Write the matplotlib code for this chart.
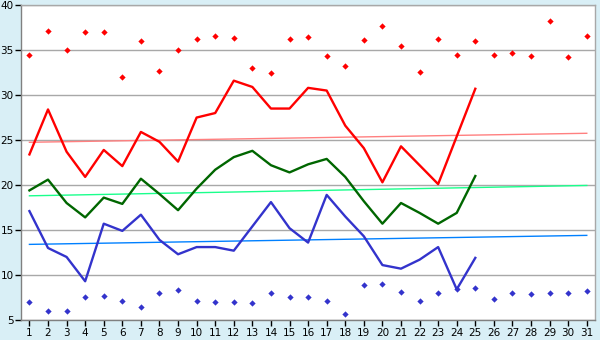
import matplotlib
matplotlib.use("Agg")
import matplotlib.pyplot as plt
import numpy as np

plt.rcParams["font.family"] = ["DejaVu Sans"]

# days of the month
days = list(range(1, 32))

# daily max (points), mean/high/low lines for days 1..25, daily min (points)
max_pts = [34.5, 37.1, 35.0, 37.0, 37.0, 32.0, 36.0, 32.7, 35.0, 36.2,
           36.6, 36.3, 33.0, 32.5, 36.2, 36.5, 34.3, 33.2, 36.1, 37.7,
           35.4, 32.6, 36.2, 34.4, 36.0, 34.5, 34.7, 34.3, 38.2, 34.2, 36.6]
red_line = [23.4, 28.4, 23.7, 20.9, 23.9, 22.1, 25.9, 24.8, 22.6, 27.5,
            28.0, 31.6, 30.9, 28.5, 28.5, 30.8, 30.5, 26.6, 24.1, 20.3,
            24.3, 22.2, 20.1, 25.4, 30.7]
green_line = [19.4, 20.6, 18.0, 16.4, 18.6, 17.9, 20.7, 19.0, 17.2, 19.6,
              21.7, 23.1, 23.8, 22.2, 21.4, 22.3, 22.9, 20.9, 18.2, 15.7,
              18.0, 16.9, 15.7, 16.9, 21.0]
blue_line = [17.1, 13.0, 12.0, 9.3, 15.7, 14.9, 16.7, 13.9, 12.3, 13.1,
             13.1, 12.7, 15.4, 18.1, 15.2, 13.6, 18.9, 16.5, 14.3, 11.1,
             10.7, 11.7, 13.1, 8.4, 11.9]
min_pts = [7.0, 6.0, 6.0, 7.6, 7.7, 7.1, 6.4, 8.0, 8.3, 7.1,
           7.0, 7.0, 6.9, 8.0, 7.5, 7.5, 7.1, 5.7, 8.9, 9.0,
           8.1, 7.1, 8.0, 8.4, 8.6, 7.3, 8.0, 7.9, 8.0, 8.0, 8.2]

# long-term normal (trend) lines: value at day 1 and day 31
red_trend = [24.75, 25.75]
green_trend = [18.8, 19.95]
blue_trend = [13.4, 14.4]

bg = "#d9eff6"
grid_c = "#a8a8a8"

fig = plt.figure(figsize=(6, 3.4), dpi=100, facecolor=bg)
ax = fig.add_axes([0.0345, 0.059, 0.9577, 0.926])
ax.set_facecolor("white")

ax.set_xlim(0.53, 31.46)
ax.set_ylim(5, 40)
ax.set_yticks(np.arange(5, 41, 5))
ax.set_xticks(days)
ax.yaxis.grid(True, color=grid_c, linewidth=1)
ax.set_axisbelow(True)

for s in ax.spines.values():
    s.set_color(grid_c)
    s.set_linewidth(1)
ax.spines["left"].set_color("#808080")
ax.spines["bottom"].set_color("#808080")

ax.tick_params(axis="both", labelsize=7.5, color="black", length=4, width=1,
               labelcolor="black")
ax.tick_params(axis="y", pad=1)
ax.tick_params(axis="x", pad=2)

trend_x = [days[0], days[-1]]
ax.plot(trend_x, red_trend, color="#ff8080", lw=1)
ax.plot(trend_x, green_trend, color="#1aff8c", lw=1)
ax.plot(trend_x, blue_trend, color="#0080ff", lw=1)

n = len(red_line)
ax.plot(days[:n], red_line, color="#ff0000", lw=1.7)
ax.plot(days[:n], green_line, color="#006600", lw=1.7)
ax.plot(days[:n], blue_line, color="#3333cc", lw=1.7)

ax.plot(days, max_pts, ls="none", marker="D", ms=3.2, color="#ff0000", mew=0)
ax.plot(days, min_pts, ls="none", marker="D", ms=3.2, color="#3333cc", mew=0)

fig.savefig("out.png", dpi=100, facecolor=bg)
